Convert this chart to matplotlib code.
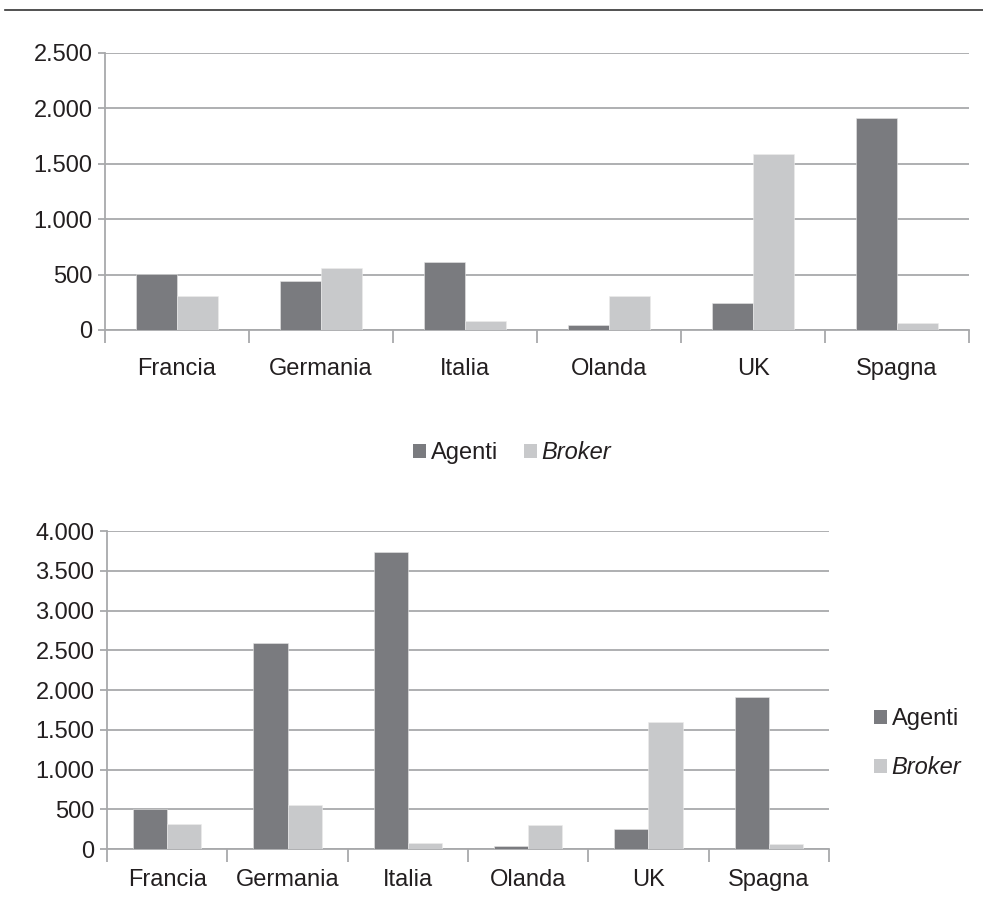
import numpy as np
import matplotlib
matplotlib.use("Agg")
import matplotlib.pyplot as plt
from matplotlib.patches import Patch
from matplotlib.lines import Line2D
from matplotlib.ticker import FuncFormatter

plt.rcParams['font.family'] = ['Liberation Sans', 'DejaVu Sans']

paesi = ["Francia", "Germania", "Italia", "Olanda", "UK", "Spagna"]
agenti_alto = [505, 440, 612, 45, 245, 1915]
broker_alto = [305, 557, 78, 310, 1590, 62]
agenti_basso = [505, 2588, 3740, 42, 246, 1916]
broker_basso = [312, 552, 70, 305, 1592, 65]

C_AGENTI = "#7a7b7f"
C_BROKER = "#c8c9cb"
C_GRID = "#a8a9ab"
C_TEXT = "#231f20"
FS = 17


def migliaia(v, pos):
    return f"{int(v):,}".replace(",", ".")


def disegna(ax, agenti, broker, ymax, step, xpad):
    x = np.arange(len(paesi))
    w = 0.285
    ax.bar(x - w / 2, agenti, w, color=C_AGENTI, edgecolor="#e6e6e6",
           linewidth=0.4, zorder=3)
    ax.bar(x + w / 2, broker, w, color=C_BROKER, edgecolor="#ececec",
           linewidth=0.4, zorder=3)
    ax.set_xlim(-0.5, len(paesi) - 0.5)
    ax.set_ylim(0, ymax)
    ax.set_yticks(np.arange(0, ymax + 1, step))
    ax.yaxis.set_major_formatter(FuncFormatter(migliaia))
    ax.yaxis.grid(True, color=C_GRID, linewidth=1.3, zorder=0)
    # category separators as major ticks, names on minor ticks
    ax.set_xticks(np.arange(len(paesi) + 1) - 0.5)
    ax.set_xticklabels([])
    ax.set_xticks(x, minor=True)
    ax.set_xticklabels(paesi, minor=True)
    ax.tick_params(axis="x", which="major", length=9, width=1.3,
                   color=C_GRID, direction="out")
    ax.tick_params(axis="x", which="minor", length=0, pad=xpad,
                   labelsize=FS, labelcolor=C_TEXT)
    ax.tick_params(axis="y", length=5, width=1.3, color=C_GRID,
                   pad=4, labelsize=FS, labelcolor=C_TEXT)
    for s in ["top", "right"]:
        ax.spines[s].set_visible(False)
    for s in ["left", "bottom"]:
        ax.spines[s].set_color(C_GRID)
        ax.spines[s].set_linewidth(1.3)


fig = plt.figure(figsize=(9.83, 9.07), dpi=100)
fig.add_artist(Line2D([0.005, 1.0], [0.989, 0.989], color="#333333",
                      linewidth=1.2, transform=fig.transFigure))

ax1 = fig.add_axes([0.1068, 0.6362, 0.8790, 0.3054])
disegna(ax1, agenti_alto, broker_alto, 2500, 500, 20)

ax2 = fig.add_axes([0.1089, 0.0639, 0.7344, 0.3506])
disegna(ax2, agenti_basso, broker_basso, 4000, 500, 14.5)

handles = [Patch(facecolor=C_AGENTI), Patch(facecolor=C_BROKER)]
etichette = ["Agenti", "Broker"]

leg1 = fig.legend(handles, etichette, loc="center", ncol=2,
                  bbox_to_anchor=(0.521, 0.501), frameon=False,
                  fontsize=FS, handlelength=0.55, handleheight=0.55,
                  handletextpad=0.2, columnspacing=1.1, borderpad=0,
                  borderaxespad=0)
leg2 = fig.legend(handles, etichette, loc="center left", ncol=1,
                  bbox_to_anchor=(0.889, 0.180), frameon=False,
                  fontsize=FS, handlelength=0.55, handleheight=0.55,
                  handletextpad=0.2, labelspacing=1.1, borderpad=0,
                  borderaxespad=0)
for leg in (leg1, leg2):
    for t in leg.get_texts():
        t.set_color(C_TEXT)
    leg.get_texts()[1].set_style("italic")

fig.savefig("out.png", dpi=100, facecolor="white")
